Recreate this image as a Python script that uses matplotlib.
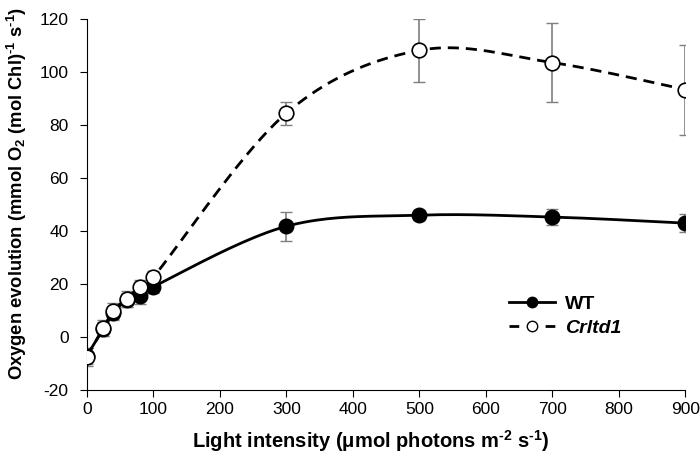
import numpy as np
import matplotlib
matplotlib.use('Agg')
import matplotlib.pyplot as plt

plt.rcParams['font.family'] = ['Liberation Sans', 'DejaVu Sans']
plt.rcParams['mathtext.fontset'] = 'custom'
plt.rcParams['mathtext.rm'] = 'Liberation Sans:bold'
plt.rcParams['mathtext.bf'] = 'Liberation Sans:bold'
plt.rcParams['mathtext.it'] = 'Liberation Sans:italic'
plt.rcParams['axes.unicode_minus'] = False

light = [0, 25, 40, 60, 80, 100, 300, 500, 700, 900]
wt = [-7.0, 3.0, 9.0, 14.0, 15.5, 19.0, 41.8, 46.0, 45.3, 43.0]
wt_err = [3.0, 2.5, 2.5, 2.5, 3.0, 2.5, 5.5, 2.0, 3.0, 3.5]
mut = [-7.5, 3.5, 10.0, 14.5, 19.0, 22.6, 84.5, 108.2, 103.6, 93.4]
mut_err = [3.5, 3.0, 3.0, 3.0, 2.5, 2.5, 4.3, 11.8, 15.0, 17.0]


def smooth_line(x, y, n=40):
    # excel-like smoothed line: cubic bezier per segment, catmull-rom handles
    p = np.column_stack([x, y]).astype(float)
    pts = []
    t = np.linspace(0, 1, n)[:, None]
    for i in range(len(p) - 1):
        p0 = p[max(i - 1, 0)]
        p1, p2 = p[i], p[i + 1]
        p3 = p[min(i + 2, len(p) - 1)]
        c1 = p1 + (p2 - p0) / 6
        c2 = p2 - (p3 - p1) / 6
        seg = (1 - t) ** 3 * p1 + 3 * (1 - t) ** 2 * t * c1 + 3 * (1 - t) * t ** 2 * c2 + t ** 3 * p2
        pts.append(seg)
    pts = np.vstack(pts)
    return pts[:, 0], pts[:, 1]


fig = plt.figure(figsize=(7, 4.66), dpi=100, facecolor='white')
ax = fig.add_axes([0.124, 0.163, 0.855, 0.796])

ax.errorbar(light, mut, yerr=mut_err, fmt='none', ecolor='#7f7f7f', elinewidth=1.2, capsize=4, zorder=2)
ax.errorbar(light, wt, yerr=wt_err, fmt='none', ecolor='#7f7f7f', elinewidth=1.2, capsize=4, zorder=2)

mx, my = smooth_line(light, mut)
wx, wy = smooth_line(light, wt)
ax.plot(mx, my, '--', color='black', lw=2, dashes=(4, 2.5), zorder=3)
ax.plot(wx, wy, '-', color='black', lw=2, zorder=3)

ax.plot(light, wt, 'o', color='black', mfc='black', ms=10.5, zorder=4)
ax.plot(light, mut, 'o', color='black', mfc='white', mec='black', mew=1.2, ms=10.5, zorder=5)

# legend handles
ax.plot([], [], '-o', color='black', lw=2, ms=7.5, label='WT')
ax.plot([], [], '--o', color='black', mfc='white', mew=1.0, lw=2, ms=7.5, dashes=(3.5, 3), label='Crltd1')
leg = ax.legend(loc='upper left', bbox_to_anchor=(0.677, 0.303), frameon=False, handlelength=2.36,
                handletextpad=0.5, prop={'weight': 'bold', 'size': 14}, labelspacing=0.35)
leg.get_texts()[1].set_style('italic')

ax.set_xlim(0, 900)
ax.set_ylim(-20, 120)
ax.set_xticks(range(0, 901, 100))
ax.set_yticks(range(-20, 121, 20))
ax.spines['top'].set_visible(False)
ax.spines['right'].set_visible(False)
ax.tick_params(direction='out', length=5, labelsize=12.5)
ax.tick_params(axis='y', pad=8)

ax.set_xlabel(r'Light intensity ($\mathbf{\mu}$mol photons m$^{\text{-2}}$ s$^{\text{-1}}$)',
              fontsize=14.5, fontweight='bold')
ax.set_ylabel(r'Oxygen evolution (mmol O$_\mathbf{2}$ (mol Chl)$^{\text{-1}}$ s$^{\text{-1}}$)',
              fontsize=13.2, fontweight='bold')
ax.xaxis.set_label_coords(0.475, -0.103)
ax.yaxis.set_label_coords(-0.097, 0.53)

fig.savefig('out.png', dpi=100)
